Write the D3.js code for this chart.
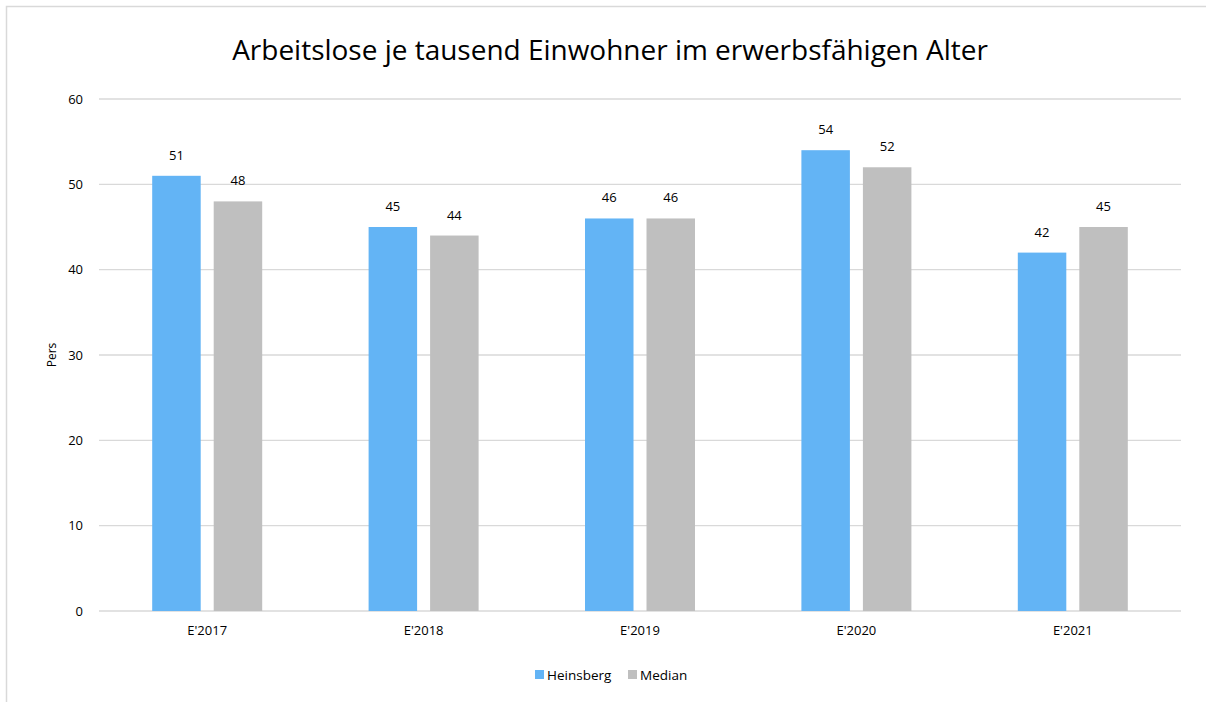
<!DOCTYPE html>
<html><head><meta charset="utf-8">
<script src="https://cdn.jsdelivr.net/npm/d3@7"></script>
<style>body{margin:0;background:#fff;overflow:hidden;} svg{display:block;font-family:"Open Sans","Noto Sans",sans-serif;}</style>
</head><body>
<svg id="c" width="1206" height="702"></svg>
<script>
const categories = ["E'2017","E'2018","E'2019","E'2020","E'2021"];
const heinsberg = [51,45,46,54,42];
const median = [48,44,46,52,45];
const seriesNames = ["Heinsberg","Median"];
const yTicks = [0,10,20,30,40,50,60];
const colors = ["#63B4F5","#BFBFBF"];

const svg = d3.select("#c");
const m={l:99,r:1181,t:99,b:611};
svg.append("rect").attr("x",6.5).attr("y",6.5).attr("width",1240).attr("height",740)
  .attr("fill","#fff").attr("stroke","#D9D9D9").attr("stroke-width",1.5);

const x = d3.scaleBand().domain(categories).range([m.l,m.r]);
const y = d3.scaleLinear().domain([0,60]).range([m.b,m.t]);
const barW = 48.5, gap = 13;

svg.append("g").selectAll("line").data(yTicks).join("line")
  .attr("x1",m.l).attr("x2",m.r).attr("y1",d=>y(d)).attr("y2",d=>y(d))
  .attr("stroke","#D9D9D9").attr("stroke-width",1.3);

const yAxis = d3.axisLeft(y).tickValues(yTicks).tickSize(0).tickPadding(0);
const gy = svg.append("g").attr("transform",`translate(${83},0)`).call(yAxis);
gy.select(".domain").remove();
gy.selectAll("text").attr("font-size",13).attr("fill","#000").attr("font-family","'Open Sans',sans-serif");

const xAxis = d3.axisBottom(x).tickSize(0).tickPadding(0);
const gx = svg.append("g").attr("transform",`translate(0,${626})`).call(xAxis);
gx.select(".domain").remove();
gx.selectAll("text").attr("font-size",13).attr("fill","#000").attr("dy","0.71em").attr("font-family","'Open Sans',sans-serif");

const data = [heinsberg, median];
data.forEach((vals,si)=>{
  const g = svg.append("g");
  const off = si===0 ? -(gap/2+barW) : gap/2;
  g.selectAll("rect").data(vals).join("rect")
    .attr("x",(d,i)=>x(categories[i])+x.bandwidth()/2+off)
    .attr("width",barW)
    .attr("y",d=>y(d)).attr("height",d=>y(0)-y(d))
    .attr("fill",colors[si]);
  g.selectAll("text").data(vals).join("text")
    .attr("x",(d,i)=>x(categories[i])+x.bandwidth()/2+off+barW/2)
    .attr("y",d=>y(d)-16)
    .attr("text-anchor","middle").attr("font-size",13).attr("fill","#000")
    .text(d=>d);
});

svg.append("text").attr("transform","translate(56,355) rotate(-90)")
  .attr("text-anchor","middle").attr("font-size",12).text("Pers");

const t = svg.append("text").attr("x",610).attr("y",60).attr("text-anchor","middle")
  .attr("font-size",28).attr("fill","#000").text("Arbeitslose je tausend Einwohner im erwerbsfähigen Alter");
const tw = t.node().getComputedTextLength();
t.attr("font-size",28*756/tw);

const lg = svg.append("g");
const lx=[535,628];
seriesNames.forEach((n,i)=>{
  lg.append("rect").attr("x",lx[i]).attr("y",670).attr("width",9).attr("height",9).attr("fill",colors[i]);
  lg.append("text").attr("x",lx[i]+12).attr("y",680).attr("font-size",13.5).attr("fill","#000").text(n);
});
</script>
</body></html>
